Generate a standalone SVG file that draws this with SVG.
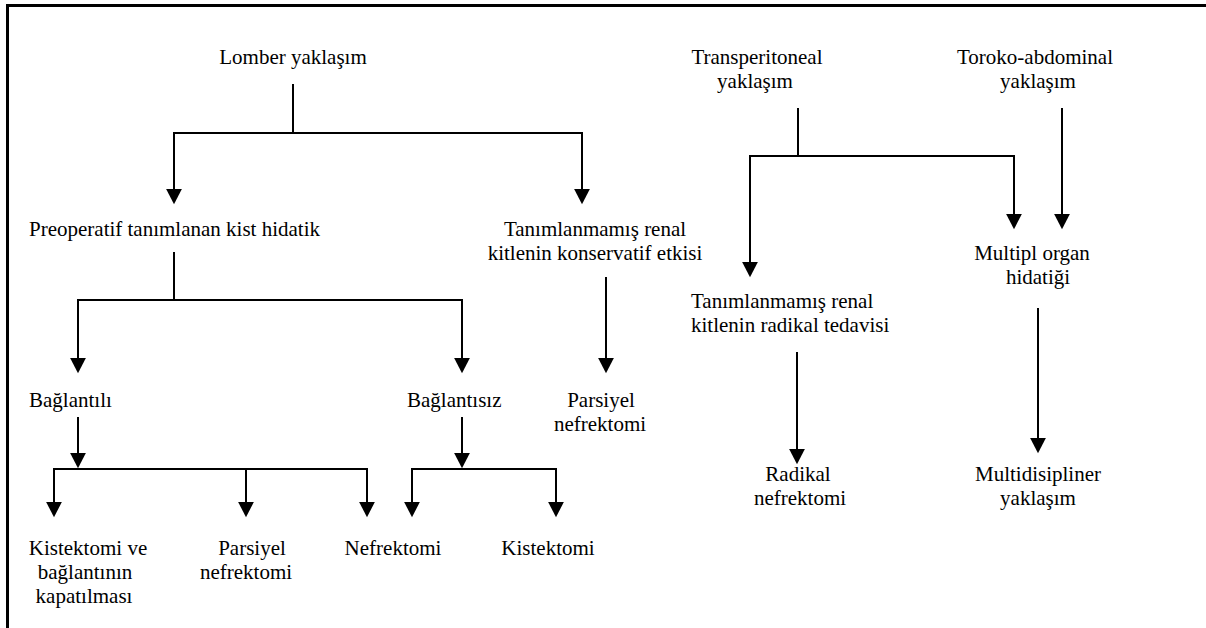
<svg xmlns="http://www.w3.org/2000/svg" width="1206" height="628" viewBox="0 0 1206 628">
<style>
.t{font-family:'Liberation Serif','Tinos','Times New Roman','Nimbus Roman','DejaVu Serif',serif;font-size:21px;fill:#000}
.m{text-anchor:middle}
.c{fill:none;stroke:#000;stroke-width:2}
.a{marker-end:url(#ah)}
</style>
<defs>
<marker id="ah" markerUnits="userSpaceOnUse" markerWidth="16" markerHeight="16" viewBox="0 0 15 15" refX="4" refY="7.5" orient="auto">
<path d="M0,0 L14.5,7.5 L0,15 z" fill="#000"/>
</marker>
</defs>
<rect width="1206" height="628" fill="#fff"/>
<g id="frame"><path d="M7.5,640 V5.5 H1220" fill="none" stroke="#000" stroke-width="3"/></g>
<g id="connectors">
<path class="c" d="M293,84 V133"/>
<path class="c a" d="M293,133 H174 V193"/>
<path class="c a" d="M293,133 H582 V193"/>
<path class="c" d="M174,252 V300"/>
<path class="c a" d="M174,300 H78 V362"/>
<path class="c a" d="M174,300 H462 V362"/>
<path class="c a" d="M606,277 V362"/>
<path class="c a" d="M78,417 V457"/>
<path class="c a" d="M78,469 H54 V506"/>
<path class="c a" d="M78,469 H246 V506"/>
<path class="c a" d="M246,469 H367 V506"/>
<path class="c a" d="M462,417 V457"/>
<path class="c a" d="M462,469 H412 V506"/>
<path class="c a" d="M462,469 H556 V506"/>
<path class="c" d="M798,108 V156"/>
<path class="c a" d="M798,156 H750 V266"/>
<path class="c a" d="M798,156 H1014 V218"/>
<path class="c a" d="M1062,108 V218"/>
<path class="c a" d="M797,352 V453"/>
<path class="c a" d="M1038,308 V442"/>
</g>
<g id="lomber"><text class="t m" x="293" y="64">Lomber yaklaşım</text></g>
<g id="transperitoneal"><text class="t m" x="757" y="64">Transperitoneal</text><text class="t m" x="755" y="88">yaklaşım</text></g>
<g id="toroko"><text class="t m" x="1035" y="64">Toroko-abdominal</text><text class="t m" x="1038" y="88">yaklaşım</text></g>
<g id="preoperatif"><text class="t" x="29" y="236">Preoperatif tanımlanan kist hidatik</text></g>
<g id="konservatif"><text class="t m" x="595" y="236">Tanımlanmamış renal</text><text class="t m" x="595" y="260">kitlenin konservatif etkisi</text></g>
<g id="radikal-tedavi"><text class="t" x="691" y="308">Tanımlanmamış renal</text><text class="t" x="691" y="332">kitlenin radikal tedavisi</text></g>
<g id="multipl"><text class="t m" x="1032" y="260">Multipl organ</text><text class="t m" x="1038" y="284">hidatiği</text></g>
<g id="baglantili"><text class="t" x="29" y="407">Bağlantılı</text></g>
<g id="baglantisiz"><text class="t" x="407" y="407">Bağlantısız</text></g>
<g id="parsiyel1"><text class="t m" x="601" y="407">Parsiyel</text><text class="t m" x="600" y="431">nefrektomi</text></g>
<g id="kistektomi-ve"><text class="t m" x="88" y="555">Kistektomi ve</text><text class="t m" x="85" y="579">bağlantının</text><text class="t m" x="84" y="603">kapatılması</text></g>
<g id="parsiyel2"><text class="t m" x="252" y="555">Parsiyel</text><text class="t m" x="246" y="579">nefrektomi</text></g>
<g id="nefrektomi"><text class="t m" x="393" y="555">Nefrektomi</text></g>
<g id="kistektomi"><text class="t m" x="548" y="555">Kistektomi</text></g>
<g id="radikal-nefrektomi"><text class="t m" x="798" y="481">Radikal</text><text class="t m" x="800" y="505">nefrektomi</text></g>
<g id="multidisipliner"><text class="t m" x="1038" y="481">Multidisipliner</text><text class="t m" x="1038" y="505">yaklaşım</text></g>
</svg>
